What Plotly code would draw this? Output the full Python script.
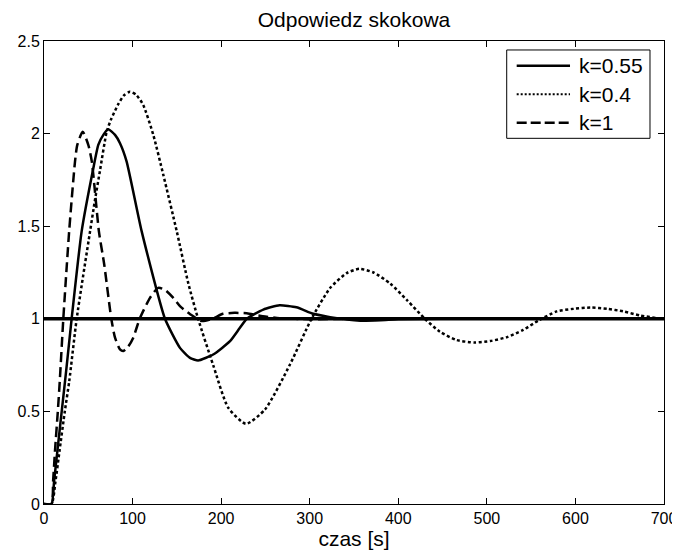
import plotly.graph_objects as go

# Time [s] and response values
t_k055 = [0, 8.5, 11.4, 15.1, 20, 25, 31.2, 42.5, 55.7, 61.3, 67, 72.6, 80.2, 85.8, 93.3,
          110.3, 136.6, 153.5, 164.8, 174, 191, 210, 221, 229, 247.6, 266, 285, 304,
          323, 342, 357, 380, 400, 450, 500, 600, 700]
y_k055 = [0, 0, 0.124, 0.286, 0.5, 0.717, 1.0, 1.472, 1.813, 1.939, 1.993, 2.023, 1.993, 1.948, 1.849,
          1.472, 1.0, 0.843, 0.789, 0.775, 0.807, 0.879, 0.95, 1.0, 1.05, 1.073, 1.062, 1.027,
          1.009, 0.996, 0.99, 0.992, 0.997, 1.0, 1.0, 1.0, 1.0]

t_k04 = [0, 8.5, 13, 17.5, 23.5, 28.5, 36.9, 52, 57.5, 63.2, 70.8, 76, 84, 90, 97, 104, 112,
         123.4, 134.7, 150, 163, 174, 191, 208, 228, 249.5, 277.7, 302, 323, 341.8, 356,
         372, 391, 410, 430, 447, 466, 486, 504, 522, 541, 558, 579, 598, 617, 636, 654,
         673, 692, 700]
y_k04 = [0, 0, 0.124, 0.286, 0.5, 0.663, 1.0, 1.472, 1.64, 1.80, 2.01, 2.08, 2.16, 2.205, 2.226, 2.21, 2.155,
         1.993, 1.777, 1.47, 1.19, 1.0, 0.75, 0.52, 0.433, 0.51, 0.753, 1.0, 1.166, 1.247, 1.27,
         1.25, 1.19, 1.1, 1.0, 0.93, 0.885, 0.872, 0.88, 0.9, 0.94, 0.99, 1.04, 1.054, 1.061, 1.054, 1.04,
         1.018, 1.004, 1.0]

t_k1 = [0, 8.5, 10.3, 12.4, 15.6, 17.8, 21.8, 28.4, 35, 37.6, 43.7, 50, 54, 62, 68, 76, 80.2,
        85.8, 89.6, 95, 100.8, 108, 119.7, 129, 137, 146, 153.5, 165, 178, 191, 202, 215, 229,
        247, 266, 300, 350, 400, 500, 600, 700]
y_k1 = [0, 0, 0.124, 0.286, 0.5, 0.663, 1.0, 1.472, 1.849, 1.939, 2.01, 1.939, 1.849, 1.472, 1.293, 1.0, 0.898,
        0.835, 0.826, 0.85, 0.898, 1.0, 1.113, 1.167, 1.155, 1.113, 1.068, 1.025, 0.988, 1.002, 1.027, 1.032, 1.03,
        1.014, 1.003, 0.998, 1.0, 1.0, 1.0, 1.0, 1.0]

t_step = [0, 700]
y_step = [1, 1]

x_ticks = [0, 100, 200, 300, 400, 500, 600, 700]
y_ticks = [0, 0.5, 1, 1.5, 2, 2.5]

series_names = ["k=0.55", "k=0.4", "k=1"]

FONT = "Liberation Sans, Arial, Helvetica, sans-serif"

styles = [
    dict(dash="solid", spline=0.5, legend_dash="solid", legend_width=2.5),
    dict(dash="3px,2.5px", spline=0.6, legend_dash="2px,2px", legend_width=2),
    dict(dash="10px,5px", spline=0.6, legend_dash="10px,4px", legend_width=2.5),
]
series = [(t_k055, y_k055), (t_k04, y_k04), (t_k1, y_k1)]

fig = go.Figure()
fig.add_trace(go.Scatter(x=t_step, y=y_step, mode="lines", showlegend=False,
                         line=dict(color="black", width=3.5), hoverinfo="skip"))
for (tx, ty), name, st in zip(series, series_names, styles):
    fig.add_trace(go.Scatter(x=tx, y=ty, mode="lines", name=name, showlegend=False,
                             line=dict(color="black", width=2.5, dash=st["dash"],
                                       shape="spline", smoothing=st["spline"])))

axis_common = dict(showgrid=False, zeroline=False, showline=True, linecolor="black", linewidth=1,
                   mirror="ticks", ticks="inside", ticklen=6, tickcolor="black", automargin=False,
                   tickfont=dict(family=FONT, size=16, color="black"))

fig.update_xaxes(range=[0, 700], tickvals=x_ticks, **axis_common,
                 title=dict(text="czas [s]", font=dict(family=FONT, size=21, color="black"), standoff=3))
fig.update_yaxes(range=[0, 2.5], tickvals=y_ticks, **axis_common)

# legend box drawn in the plot's paper coordinates (MATLAB-style legend)
box_x0, box_x1, box_y0, box_y1 = 0.7463, 0.9774, 0.7898, 0.9806
line_x0, line_x1, text_x = 0.7624, 0.8484, 0.8592
row_y = [0.9467, 0.8851, 0.8236]

fig.add_shape(type="rect", xref="paper", yref="paper", x0=box_x0, x1=box_x1, y0=box_y0, y1=box_y1,
              line=dict(color="black", width=1), fillcolor="white", layer="above")
for name, st, ry in zip(series_names, styles, row_y):
    fig.add_shape(type="line", xref="paper", yref="paper", x0=line_x0, x1=line_x1, y0=ry, y1=ry,
                  line=dict(color="black", width=st["legend_width"], dash=st["legend_dash"]), layer="above")
    fig.add_annotation(xref="paper", yref="paper", x=text_x, y=ry, text=name, showarrow=False,
                       xanchor="left", yanchor="middle",
                       font=dict(family=FONT, size=21, color="black"))

# page body has an 8px margin, so the figure is 672x548 and the plot box lands at 44..664 x 41..504
fig.update_layout(
    width=672, height=548,
    margin=dict(l=36, r=16, t=33, b=52, autoexpand=False),
    paper_bgcolor="white", plot_bgcolor="white",
    title=dict(text="Odpowiedz skokowa", x=0.5, xref="paper", xanchor="center",
               y=1 - 12 / 548, yref="container", yanchor="middle",
               font=dict(family=FONT, size=21, color="black")),
    showlegend=False,
)

fig.write_html("out.html")
